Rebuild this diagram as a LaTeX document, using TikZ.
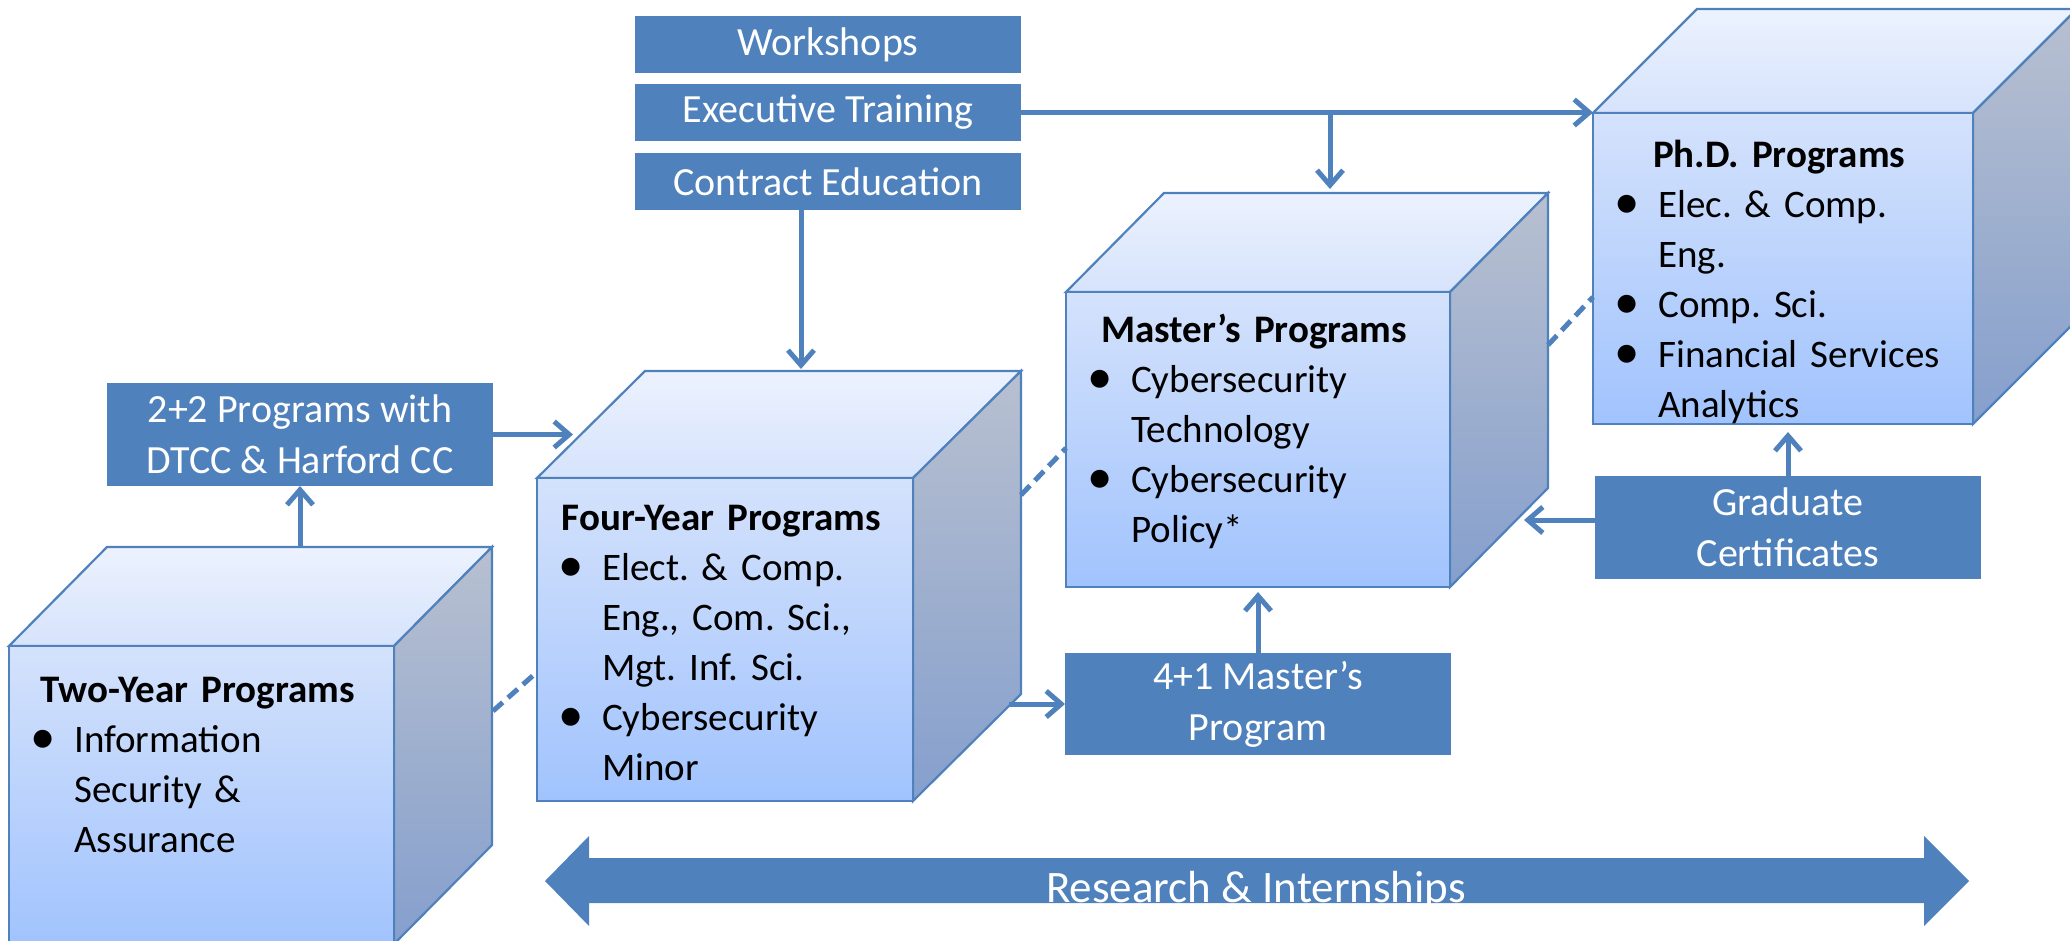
\documentclass[tikz,border=0pt]{standalone}
\usepackage{fontspec}
\usepackage{graphicx}
\setmainfont{Carlito}
\usetikzlibrary{arrows.meta,calc}

\definecolor{accent}{RGB}{79,129,189}
\definecolor{frontTop}{RGB}{212,226,252}
\definecolor{frontBot}{RGB}{161,195,253}
\definecolor{topBack}{RGB}{236,242,254}
\definecolor{topFront}{RGB}{214,227,252}
\definecolor{sideTop}{RGB}{184,192,208}
\definecolor{sideBot}{RGB}{133,159,205}

% list helpers for the cube labels
\newcommand{\bigbullet}{\raisebox{-1.5pt}{\scalebox{1.3}{\textbullet}}}
\newcommand{\itm}[1]{\par\noindent\makebox[65pt][l]{\hspace{21pt}\bigbullet}\mbox{#1}}
\newcommand{\cnt}[1]{\par\noindent\hspace*{65pt}\mbox{#1}}
\newcommand{\ttl}[1]{{\centering\bfseries\strut#1\par}}

% \drawcube{name}{x}{y}{w}{h}{dx}{dy}: front face at (x,y), size w x h, depth offset (dx,dy)
\newcommand{\drawcube}[7]{%
  \coordinate (#1-a) at (#2,#3);
  \coordinate (#1-b) at ({#2+#4},#3);
  \coordinate (#1-c) at ({#2+#4},{#3+#5});
  \coordinate (#1-e) at ({#2+#6},{#3-#7});
  \coordinate (#1-f) at ({#2+#4+#6},{#3-#7});
  \coordinate (#1-g) at ({#2+#4+#6},{#3+#5-#7});
  \path[cubeedge, top color=topBack, bottom color=topFront]
    (#1-a) -- (#1-e) -- (#1-f) -- (#1-b) -- cycle;
  \path[cubeedge, top color=sideTop, bottom color=sideBot]
    (#1-b) -- (#1-f) -- (#1-g) -- (#1-c) -- cycle;
  \node[cubeface, minimum width=#4pt, minimum height=#5pt, anchor=north west] (#1) at (#1-a) {};
}

\tikzset{
  cubeedge/.style={draw=accent, line width=2.2pt, line join=miter},
  cubeface/.style={cubeedge, top color=frontTop, bottom color=frontBot, inner sep=0pt, outer sep=0pt},
  cubetext/.style={anchor=north west, inner sep=0pt, align=left, text=black,
    font=\fontsize{39}{50}\selectfont\frenchspacing},
  bluebox/.style={fill=accent, text=white, inner sep=0pt, outer sep=0pt, align=center,
    minimum width=386pt, font=\fontsize{40}{51}\selectfont},
  conn/.style={draw=accent, line width=5pt, -{Straight Barb[length=15pt,width=26pt]}},
  link/.style={draw=accent, line width=5pt, dash pattern=on 13pt off 7pt},
}

\begin{document}
\begin{tikzpicture}[x=1pt, y=-1pt]
  \path[use as bounding box] (0,0) rectangle (2070,940);
  \clip (0,0) rectangle (2070,940);

  % the four program cubes
  \drawcube{two}{9}{646}{385}{298}{98}{99}
  \drawcube{four}{537}{478}{376}{323}{108}{107}
  \drawcube{mast}{1066}{292}{384}{295}{98}{99}
  \drawcube{phd}{1593}{113}{380}{311}{104}{104}

  \node[cubetext, text width=377pt] (twotxt) at (9,667) {%
    \ttl{Two-Year Programs}
    \itm{Information}
    \cnt{Security \&}
    \cnt{Assurance}};
  \node[cubetext, text width=368pt] (fourtxt) at (537,495) {%
    \ttl{Four-Year Programs}
    \itm{\makebox[251pt][s]{Elect. \& Comp.}}
    \cnt{\makebox[251pt][s]{Eng., Com. Sci.,}}
    \cnt{Mgt. Inf. Sci.}
    \itm{Cybersecurity}
    \cnt{Minor}};
  \node[cubetext, text width=376pt] (masttxt) at (1066,307) {%
    \ttl{Master’s Programs}
    \itm{Cybersecurity}
    \cnt{Technology}
    \itm{Cybersecurity}
    \cnt{Policy*}};
  \node[cubetext, text width=372pt] (phdtxt) at (1593,132) {%
    \ttl{Ph.D. Programs}
    \itm{Elec. \& Comp.}
    \cnt{Eng.}
    \itm{Comp. Sci.}
    \itm{Financial Services}
    \cnt{Analytics}};

  % rectangular boxes
  \node[bluebox, minimum height=57pt] (work) at (828,44.5) {Workshops};
  \node[bluebox, minimum height=57pt] (exec) at (828,112.5) {Executive Training};
  \node[bluebox, minimum height=57pt] (contr) at (828,181.5) {Contract Education};
  \node[bluebox, minimum height=103pt] (twoplus) at (300,434.5) {2+2 Programs with\\DTCC \& Harford CC};
  \node[bluebox, minimum height=102pt] (fourone) at (1258,704) {4+1 Master’s\\Program};
  \node[bluebox, minimum height=103pt] (grad) at (1788,527.5) {Graduate\\Certificates};

  % connector end points on the cube faces
  \coordinate (fourin) at (573,434.5);
  \coordinate (fourtop) at (801,369);
  \coordinate (masttop) at (1330,189);
  \coordinate (mastside) at (1524,520);
  \coordinate (fourout) at (1009,704);

  % arrows
  \draw[conn] (twoplus.south |- two-e) -- (twoplus.south);
  \draw[conn] (twoplus.east) -- (fourin);
  \draw[conn] (contr.south -| fourtop) -- (fourtop);
  \draw[conn] (exec.east) -- (exec.east -| phd.north west);
  \draw[conn] (exec.east -| masttop) -- (masttop);
  \draw[conn] (fourout) -- (fourone.west);
  \draw[conn, shorten >=5pt] (fourone.north) -- (fourone.north |- mast.south);
  \draw[conn, shorten >=8pt] (grad.north) -- (grad.north |- phd.south);
  \draw[conn] (grad.west |- mastside) -- (mastside);

  % dashed links between consecutive cubes
  \coordinate (l1a) at (493,711);
  \coordinate (l1b) at (537,672);
  \coordinate (l2a) at (1021,495);
  \coordinate (l2b) at (1066,448);
  \coordinate (l3a) at (1548,345);
  \coordinate (l3b) at (1593,297);
  \draw[link] (l1a) -- (l1b);
  \draw[link] (l2a) -- (l2b);
  \draw[link] (l3a) -- (l3b);

  % research band
  \fill[accent] (545,881) -- (589,836) -- (589,858) -- (1924,858) -- (1924,836)
    -- (1969,881) -- (1924,926) -- (1924,903) -- (589,903) -- (589,926) -- cycle;
  \node[anchor=base, inner sep=0pt, text=white, font=\fontsize{45}{54}\selectfont]
    (research) at (1256,902) {Research \& Internships};
\end{tikzpicture}
\end{document}
